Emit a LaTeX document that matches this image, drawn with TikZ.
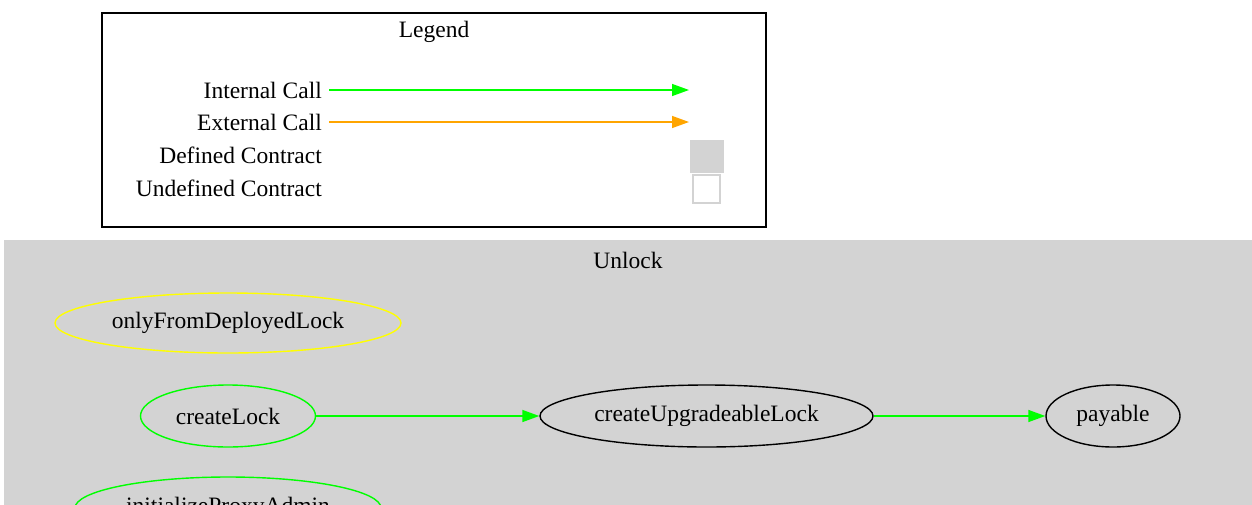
\documentclass[tikz,border=0pt]{standalone}
\usepackage{fontspec}
\setmainfont{Liberation Serif}
\usetikzlibrary{shapes.geometric,arrows.meta}
\definecolor{gvgreen}{HTML}{00FF00}
\definecolor{gvorange}{HTML}{FFA500}
\definecolor{gvgray}{HTML}{D3D3D3}
\definecolor{gvyellow}{HTML}{FFFF00}
\tikzset{
  lbl/.style={font=\fontsize{23.5}{25}\selectfont, inner sep=0pt},
  fn/.style={ellipse, draw, line width=1.4pt, inner sep=0pt, font=\fontsize{23.5}{25}\selectfont},
  call/.style={line width=1.4pt, -{Triangle[length=17pt,width=12pt]}},
}
\begin{document}
\begin{tikzpicture}[x=1pt,y=-1pt]
\useasboundingbox (0,0) rectangle (1252,504);
\clip (0,0) rectangle (1252,504);
\fill[white] (0,0) rectangle (1252,504);
% Legend
\node[draw=black, line width=1.4pt, minimum width=664pt, minimum height=214pt, inner sep=0pt] (legend) at (434,120) {};
\node[lbl] (legtitle) at (434,32) {Legend};
\node[lbl, anchor=east] (ic) at (322,90) {Internal Call};
\node[lbl, anchor=east] (ec) at (322,122) {External Call};
\node[lbl, anchor=east] (dc) at (322,155) {Defined Contract};
\node[lbl, anchor=east] (uc) at (322,188) {Undefined Contract};
\coordinate (ics) at (329,90);
\coordinate (ice) at (689,90);
\coordinate (ecs) at (329,122);
\coordinate (ece) at (689,122);
\draw[call, gvgreen] (ics) -- (ice);
\draw[call, gvorange] (ecs) -- (ece);
\node[fill=gvgray, draw=gvgray, minimum width=33pt, minimum height=32pt, inner sep=0pt] (dbox) at (706.5,156) {};
\node[fill=white, draw=gvgray, line width=1.4pt, minimum width=27pt, minimum height=28pt, inner sep=0pt] (ubox) at (706.5,189) {};
% Cluster
\fill[gvgray] (4,240) rectangle (1260,520);
\node[lbl] (unlock) at (628,260) {Unlock};
\node[fn, draw=gvyellow, minimum width=346pt, minimum height=60pt] (ofdl) at (228,323) {onlyFromDeployedLock};
\node[fn, draw=gvgreen, minimum width=175pt, minimum height=62pt] (cl) at (228,416) {createLock};
\node[fn, draw=gvgreen, minimum width=306pt, minimum height=62pt] (ipa) at (228,508) {initializeProxyAdmin};
\node[fn, draw=black, minimum width=333pt, minimum height=62pt] (cul) at (706.5,416) {createUpgradeableLock};
\node[fn, draw=black, minimum width=134pt, minimum height=62pt] (pay) at (1113,416) {payable};
\draw[call, gvgreen] (cl) -- (cul);
\draw[call, gvgreen] (cul) -- (pay);
\end{tikzpicture}
\end{document}
